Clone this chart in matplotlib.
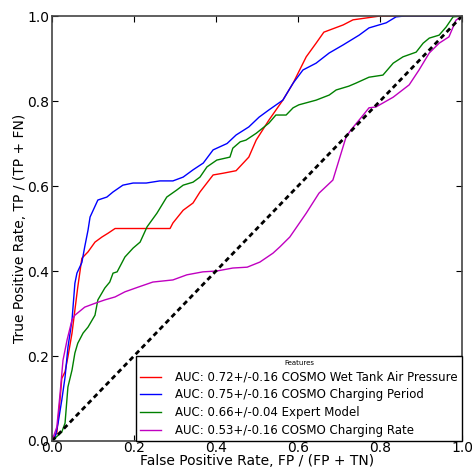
import numpy as np
import matplotlib
matplotlib.use('Agg')
import matplotlib.pyplot as plt

# ROC curves
fpr_wet_tank = [0.0, 0.012, 0.02, 0.024, 0.032, 0.039, 0.049, 0.056, 0.063, 0.073, 0.088, 0.105,
                0.122, 0.137, 0.154, 0.288, 0.295, 0.32, 0.344, 0.361, 0.393, 0.417, 0.449, 0.48,
                0.498, 0.529, 0.563, 0.588, 0.62, 0.644, 0.663, 0.71, 0.734, 0.80, 1.0]
tpr_wet_tank = [0.0, 0.019, 0.10, 0.147, 0.163, 0.198, 0.254, 0.308, 0.362, 0.43, 0.445, 0.468,
                0.48, 0.489, 0.50, 0.50, 0.513, 0.543, 0.56, 0.586, 0.626, 0.630, 0.636, 0.668,
                0.708, 0.755, 0.802, 0.842, 0.904, 0.936, 0.962, 0.979, 0.991, 1.0, 1.0]

fpr_period = [0.0, 0.007, 0.015, 0.024, 0.032, 0.039, 0.049, 0.056, 0.061, 0.073, 0.080, 0.088,
              0.093, 0.112, 0.134, 0.149, 0.173, 0.198, 0.23, 0.263, 0.295, 0.32, 0.344, 0.369,
              0.393, 0.427, 0.449, 0.48, 0.505, 0.529, 0.563, 0.588, 0.612, 0.644, 0.676, 0.71,
              0.749, 0.773, 0.815, 0.839, 0.86, 1.0]
tpr_period = [0.0, 0.005, 0.042, 0.096, 0.15, 0.22, 0.285, 0.371, 0.395, 0.42, 0.457, 0.496,
              0.527, 0.567, 0.574, 0.586, 0.602, 0.607, 0.607, 0.612, 0.612, 0.621, 0.638, 0.654,
              0.685, 0.70, 0.72, 0.739, 0.762, 0.779, 0.802, 0.842, 0.873, 0.889, 0.913, 0.932,
              0.955, 0.972, 0.984, 0.998, 1.0, 1.0]

fpr_expert = [0.0, 0.024, 0.032, 0.039, 0.049, 0.056, 0.063, 0.076, 0.088, 0.105, 0.112, 0.129,
              0.141, 0.149, 0.159, 0.178, 0.198, 0.215, 0.232, 0.256, 0.28, 0.305, 0.32, 0.344,
              0.361, 0.378, 0.402, 0.434, 0.441, 0.459, 0.473, 0.498, 0.529, 0.546, 0.571, 0.588,
              0.602, 0.644, 0.676, 0.693, 0.724, 0.741, 0.773, 0.807, 0.832, 0.856, 0.888, 0.905,
              0.92, 0.944, 0.961, 0.978, 1.0]
tpr_expert = [0.0, 0.021, 0.042, 0.127, 0.167, 0.207, 0.23, 0.254, 0.268, 0.296, 0.332, 0.36,
              0.374, 0.395, 0.398, 0.433, 0.454, 0.468, 0.504, 0.536, 0.574, 0.591, 0.602, 0.609,
              0.621, 0.645, 0.661, 0.668, 0.689, 0.704, 0.708, 0.724, 0.748, 0.767, 0.767, 0.784,
              0.791, 0.802, 0.814, 0.826, 0.835, 0.842, 0.856, 0.861, 0.889, 0.904, 0.915, 0.936,
              0.948, 0.955, 0.974, 0.998, 1.0]

fpr_rate = [0.0, 0.012, 0.02, 0.027, 0.037, 0.049, 0.056, 0.080, 0.105, 0.129, 0.154, 0.178,
            0.21, 0.246, 0.295, 0.329, 0.368, 0.402, 0.441, 0.476, 0.507, 0.539, 0.556, 0.58,
            0.605, 0.62, 0.651, 0.685, 0.717, 0.729, 0.759, 0.773, 0.79, 0.832, 0.871, 0.895,
            0.92, 0.944, 0.968, 0.985, 1.0]
tpr_rate = [0.0, 0.033, 0.113, 0.19, 0.238, 0.285, 0.296, 0.315, 0.324, 0.332, 0.339, 0.351,
            0.362, 0.374, 0.379, 0.391, 0.398, 0.40, 0.407, 0.409, 0.421, 0.442, 0.457, 0.48,
            0.515, 0.536, 0.583, 0.614, 0.715, 0.732, 0.767, 0.784, 0.786, 0.809, 0.838, 0.873,
            0.913, 0.936, 0.951, 0.99, 1.0]

labels = ['AUC: 0.72+/-0.16 COSMO Wet Tank Air Pressure',
          'AUC: 0.75+/-0.16 COSMO Charging Period',
          'AUC: 0.66+/-0.04 Expert Model',
          'AUC: 0.53+/-0.16 COSMO Charging Rate']
colors = ['#ff0000', '#0000ff', '#008000', '#c000c0']


def plot_roc():
    fig = plt.figure(figsize=(4.72, 4.71), dpi=100)
    ax = fig.add_axes([0.110, 0.0637, 0.869, 0.9023])

    curves = [(fpr_wet_tank, tpr_wet_tank), (fpr_period, tpr_period),
              (fpr_expert, tpr_expert), (fpr_rate, tpr_rate)]
    for (x, y), lab, c in zip(curves, labels, colors):
        ax.plot(x, y, '-', color=c, lw=1.0, label=lab)

    # chance line
    ax.plot([0, 1], [0, 1], '--', color='k', lw=2, dashes=(1.8, 1.3))

    ax.set_xlim(0, 1)
    ax.set_ylim(0, 1)
    ax.set_xticks(np.arange(0, 1.01, 0.2))
    ax.set_yticks(np.arange(0, 1.01, 0.2))
    ax.tick_params(direction='in', top=True, right=True, length=4, labelsize=10)
    ax.tick_params(axis='x', pad=0)
    ax.tick_params(axis='y', pad=2)
    for s in ax.spines.values():
        s.set_color('#444444')
        s.set_linewidth(1.2)

    ax.set_xlabel('False Positive Rate, FP / (FP + TN)', fontsize=10, labelpad=-1)
    ax.set_ylabel('True Positive Rate, TP / (TP + FN)', fontsize=10, labelpad=0)

    leg = ax.legend(loc='lower right', title='Features', fontsize=8.5, fancybox=False,
                    framealpha=1, edgecolor='k', borderaxespad=0, handlelength=1.8,
                    labelspacing=0.4, borderpad=0.35, handletextpad=1.2)
    leg.get_title().set_fontsize(5)
    leg.get_frame().set_linewidth(1.0)

    fig.savefig('out.png', dpi=100)


if __name__ == '__main__':
    plot_roc()
